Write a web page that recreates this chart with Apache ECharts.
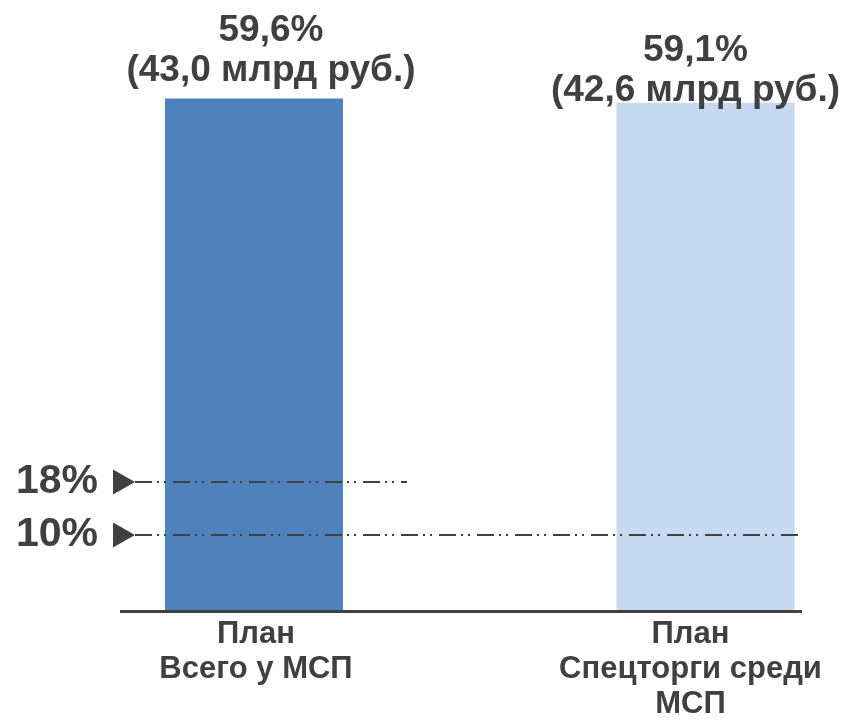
<!DOCTYPE html>
<html>
<head>
<meta charset="utf-8">
<script src="https://cdn.jsdelivr.net/npm/echarts@6/dist/echarts.min.js"></script>
<style>
html,body{margin:0;padding:0;background:#fff;}
#chart{width:845px;height:724px;}
</style>
</head>
<body>
<div id="chart"></div>
<script>
// ---- data ----
const categories = ['План\nВсего у МСП', 'План\nСпецторги среди\nМСП'];
const sharePct = [59.6, 59.1];
const amountBn = ['43,0', '42,6'];
const barColors = ['#4f81bd', '#c6d9f0'];
const thresholds = [18, 10];
const thresholdLabels = ['18%', '10%'];

// ---- styles ----
const TXT = '#404040';
const FONT = '"Liberation Sans", Arial, sans-serif';
const labelOffsets = [[17, -3], [-10, 13]];
const catPadding = [[0, 0, 0, 4], [0, 30, 0, 0]];
const thresholdLineEnds = [407, 802];

const chart = echarts.init(document.getElementById('chart'), null, {renderer: 'canvas'});

const dash = [17, 5, 2, 5, 2, 7];

const option = {
  animation: false,
  grid: {left: 28.25, width: 903, top: 95, bottom: 113, containLabel: false, outerBoundsMode: 'none'},
  xAxis: {
    type: 'category',
    data: categories.map((c, i) => ({
      value: c,
      textStyle: {padding: catPadding[i]}
    })),
    axisLine: {show: false},
    axisTick: {show: false},
    axisLabel: {
      interval: 0,
      margin: 6,
      color: TXT,
      fontFamily: FONT,
      fontWeight: 'bold',
      fontSize: 31,
      lineHeight: 35,
      align: 'center'
    },
    splitLine: {show: false}
  },
  yAxis: [
    {type: 'value', min: 0, max: 60, show: false, splitLine: {show: false}},
    {type: 'value', min: -1.47, max: 76.42, show: false, splitLine: {show: false}}
  ],
  series: [
    {
      type: 'bar',
      yAxisIndex: 0,
      barWidth: 178,
      data: sharePct.map((v, i) => ({
        value: v,
        itemStyle: {color: barColors[i]},
        label: {offset: labelOffsets[i]}
      })),
      label: {
        show: true,
        position: 'top',
        color: TXT,
        fontFamily: FONT,
        fontWeight: 'bold',
        fontSize: 37,
        lineHeight: 40,
        align: 'center',
        formatter: p => p.value.toFixed(1).replace('.', ',') + '%\n(' + amountBn[p.dataIndex] + ' млрд руб.)'
      },
      markLine: {
        silent: true,
        symbol: ['none', 'none'],
        label: {show: false},
        lineStyle: {color: TXT, width: 3, type: 'solid'},
        data: [[{x: 120, yAxis: 0}, {x: 802, yAxis: 0}]]
      }
    },
    {
      type: 'line',
      yAxisIndex: 1,
      data: [],
      markLine: {
        silent: true,
        symbol: ['none', 'none'],
        lineStyle: {color: TXT, width: 2, type: dash},
        label: {
          show: true,
          position: 'start',
          distance: 37,
          color: TXT,
          fontFamily: FONT,
          fontWeight: 'bold',
          fontSize: 41
        },
        data: thresholds.map((t, i) => [
          {x: 135, yAxis: t, label: {formatter: thresholdLabels[i]}},
          {x: thresholdLineEnds[i], yAxis: t}
        ])
      },
      markPoint: {
        silent: true,
        symbol: 'triangle',
        symbolSize: [25, 22],
        symbolRotate: -90,
        itemStyle: {color: TXT},
        label: {show: false},
        data: thresholds.map(t => ({x: 124, yAxis: t}))
      }
    }
  ]
};

chart.setOption(option);
</script>
</body>
</html>
